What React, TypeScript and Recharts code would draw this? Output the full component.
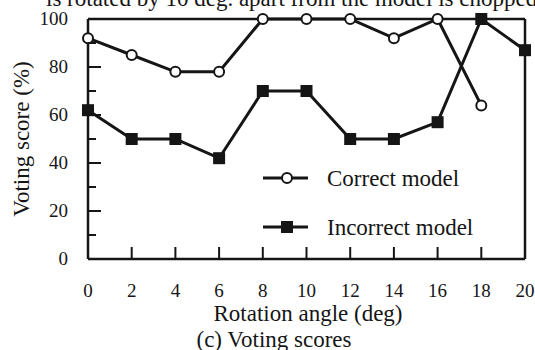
import React from 'react';
import { LineChart, Line, XAxis, YAxis, ReferenceLine, Label } from 'recharts';

const angles = [0, 2, 4, 6, 8, 10, 12, 14, 16, 18, 20];
const correctModel = [92, 85, 78, 78, 100, 100, 100, 92, 100, 64, null];
const incorrectModel = [62, 50, 50, 42, 70, 70, 50, 50, 57, 100, 87];
const xTicks = [0, 2, 4, 6, 8, 10, 12, 14, 16, 18, 20];
const yTicks = [0, 10, 20, 30, 40, 50, 60, 70, 80, 90, 100];
const seriesNames = ['Correct model', 'Incorrect model'];

const data = angles.map((a, i) => ({ angle: a, correct: correctModel[i], incorrect: incorrectModel[i] }));

const FONT = '"Liberation Serif", "Times New Roman", serif';
const INK = '#151515';

const XTick = (props: any) => {
  const { x, y, payload } = props;
  return (
    <g>
      <line x1={x} y1={y} x2={x} y2={y - 12} stroke={INK} strokeWidth={2} />
      <text x={x} y={y + 38} textAnchor="middle" fontFamily={FONT} fontSize={19} fill={INK}>
        {payload.value}
      </text>
    </g>
  );
};

const YTick = (props: any) => {
  const { x, y, payload } = props;
  const major = payload.value % 20 === 0;
  return (
    <g>
      <line x1={x} y1={y} x2={x + (major ? 13 : 8)} y2={y} stroke={INK} strokeWidth={2} />
      {major && (
        <text x={x - 20} y={y + 6} textAnchor="end" fontFamily={FONT} fontSize={19} fill={INK}>
          {payload.value}
        </text>
      )}
    </g>
  );
};

const SquareDot = (props: any) => {
  const { cx, cy, index } = props;
  if (cx == null || cy == null) return <g key={index} />;
  return <rect key={index} x={cx - 6} y={cy - 6} width={12} height={12} fill={INK} />;
};

const Texts = () => (
  <g fontFamily={FONT} fill={INK}>
    <text x={46} y={6} fontSize={23}>is rotated by 10 deg. apart from the model is chopped.</text>
    <text x={308} y={321} fontSize={23} textAnchor="middle">Rotation angle (deg)</text>
    <text x={274} y={347} fontSize={23} textAnchor="middle">(c) Voting scores</text>
    <text x={29} y={139} fontSize={23} textAnchor="middle" transform="rotate(-90 29 139)">Voting score (%)</text>
    <g transform="translate(263 165)">
      <line x1={0} y1={13} x2={45} y2={13} stroke={INK} strokeWidth={3} />
      <circle cx={24} cy={13} r={5} fill="#fff" stroke={INK} strokeWidth={2} />
      <text x={64} y={21} fontSize={23}>{seriesNames[0]}</text>
      <line x1={0} y1={62} x2={45} y2={62} stroke={INK} strokeWidth={3} />
      <rect x={18} y={56} width={12} height={12} fill={INK} />
      <text x={64} y={70} fontSize={23}>{seriesNames[1]}</text>
    </g>
  </g>
);

export default function App() {
  return (
    <div style={{ position: 'absolute', left: 0, top: 0, background: '#fff' }}>
      <LineChart width={535} height={350} data={data} margin={{ top: 19, right: 10, left: 0, bottom: 0 }}>
        <XAxis
          dataKey="angle"
          type="number"
          domain={[0, 20]}
          ticks={xTicks}
          interval={0}
          height={91}
          tickSize={0}
          tickMargin={0}
          tick={<XTick />}
          axisLine={{ stroke: INK, strokeWidth: 2.5 }}
          tickLine={false}
        >
          <Label content={() => <Texts />} />
        </XAxis>
        <YAxis
          type="number"
          domain={[0, 100]}
          ticks={yTicks}
          interval={0}
          width={88}
          tickSize={0}
          tickMargin={0}
          tick={<YTick />}
          axisLine={{ stroke: INK, strokeWidth: 2.5 }}
          tickLine={false}
        />
        <ReferenceLine y={100} stroke={INK} strokeWidth={2.5} />
        <ReferenceLine x={20} stroke={INK} strokeWidth={2.5} />
        <Line
          dataKey="incorrect"
          name={seriesNames[1]}
          stroke={INK}
          strokeWidth={3}
          dot={<SquareDot />}
          isAnimationActive={false}
        />
        <Line
          dataKey="correct"
          name={seriesNames[0]}
          stroke={INK}
          strokeWidth={3}
          dot={{ r: 5, fill: '#fff', stroke: INK, strokeWidth: 2 }}
          isAnimationActive={false}
        />
      </LineChart>
    </div>
  );
}
